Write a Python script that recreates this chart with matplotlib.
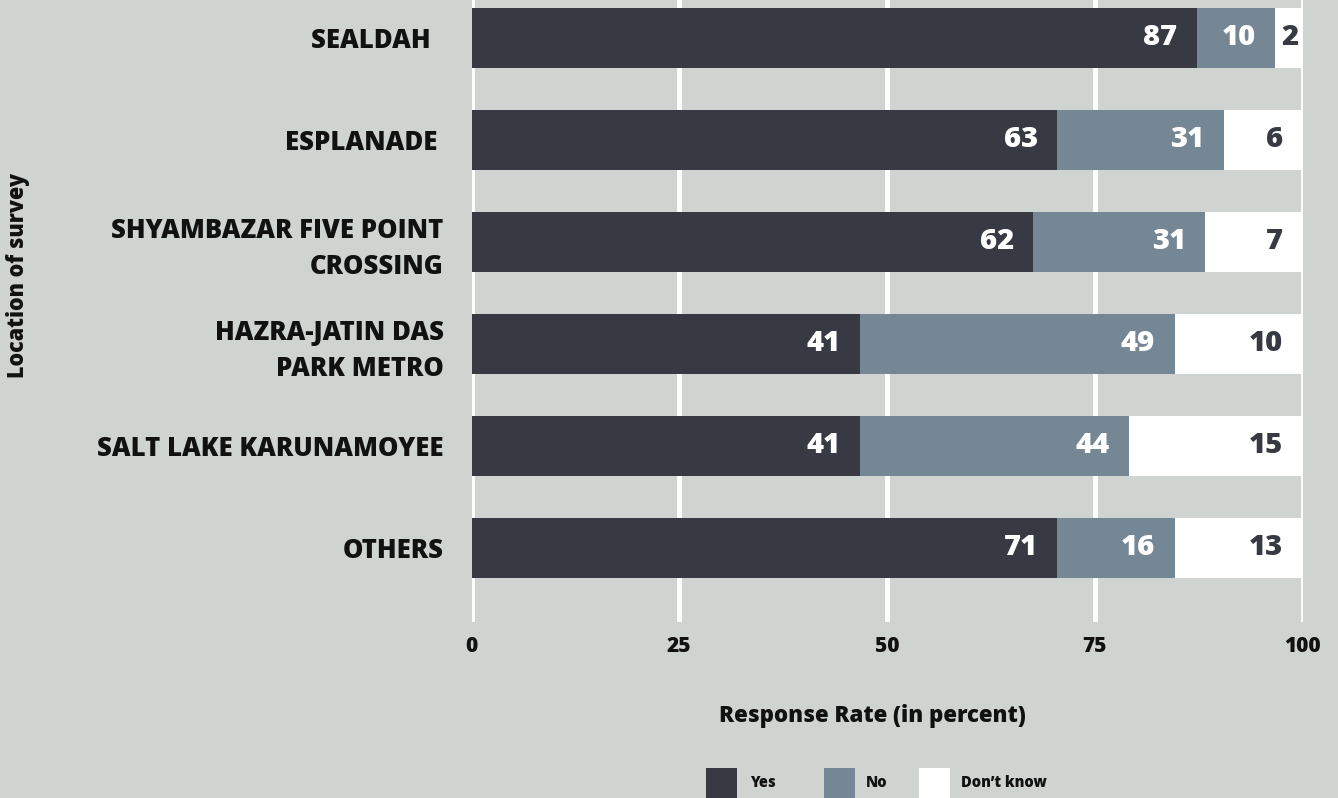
import matplotlib
matplotlib.use("Agg")
import matplotlib.pyplot as plt
from matplotlib.patches import Rectangle

# ---- data ----
categories = ["SEALDAH  ", "ESPLANADE ", "SHYAMBAZAR FIVE POINT\nCROSSING",
              "HAZRA-JATIN DAS\nPARK METRO", "SALT LAKE KARUNAMOYEE", "OTHERS"]
yes_labels = [87, 63, 62, 41, 41, 71]
no_labels = [10, 31, 31, 49, 44, 16]
dk_labels = [2, 6, 7, 10, 15, 13]
# segment lengths as drawn in the reference (percent axis)
yes_width = [87.3, 70.5, 67.6, 46.8, 46.8, 70.5]
no_width = [9.4, 20.0, 20.7, 37.8, 32.3, 14.1]
dk_width = [3.3, 9.5, 11.7, 15.4, 20.9, 15.4]
xticks = [0, 25, 50, 75, 100]
series_names = ["Yes", "No", "Don\u2019t know"]

# ---- style ----
FONT = "Open Sans"
plt.rcParams["font.family"] = [FONT, "DejaVu Sans"]
BG = "#cfd4d1"
C_YES = "#383a43"
C_NO = "#758694"
C_DK = "#ffffff"
TXT = "#111111"
HW = "heavy"

W, H = 1338, 798
fig = plt.figure(figsize=(W / 100, H / 100), dpi=100, facecolor=BG)
ax = fig.add_axes([471.5 / W, 1 - 622 / H, 831 / W, 622 / H])
ax.set_facecolor("none")

y = list(range(len(categories)))
bh = 60 / 102
lefts_no = yes_width
lefts_dk = [a + b for a, b in zip(yes_width, no_width)]
ax.barh(y, yes_width, height=bh, color=C_YES, zorder=3)
ax.barh(y, no_width, left=lefts_no, height=bh, color=C_NO, zorder=3)
ax.barh(y, dk_width, left=lefts_dk, height=bh, color=C_DK, zorder=3)

ax.set_xlim(0, 100)
ax.set_ylim((622 - 37.5) / 102, -37.5 / 102)

# value labels
def put(vals, lefts, widths, color):
    for i, (v, l, w) in enumerate(zip(vals, lefts, widths)):
        pad = 3 if w < 5 else 14
        ax.annotate(str(v), xy=(l + w, i), xytext=(-pad, 0), textcoords="offset points",
                    ha="right", va="center", color=color, fontsize=21,
                    fontweight=HW, zorder=5)

put(yes_labels, [0] * len(y), yes_width, "white")
put(no_labels, lefts_no, no_width, "white")
put(dk_labels, lefts_dk, dk_width, C_YES)

# grid
ax.set_xticks(xticks)
ax.set_xticklabels([str(t) for t in xticks])
ax.grid(axis="x", color="white", linewidth=3.5, zorder=1)
ax.set_axisbelow(True)
for s in ax.spines.values():
    s.set_visible(False)
ax.tick_params(axis="x", length=0, pad=10, labelsize=15, labelcolor=TXT)
for lab in ax.get_xticklabels():
    lab.set_fontweight(HW)
ax.set_yticks(y)
ax.set_yticklabels(categories, fontsize=18.5, fontweight=HW, color=TXT,
                   linespacing=1.45)
ax.tick_params(axis="y", length=0, pad=20)

# axis titles
fig.text(872 / W, 1 - 716 / H, "Response Rate (in percent)", ha="center", va="center",
         fontsize=16, fontweight=HW, color=TXT)
fig.text(18 / W, 1 - 275 / H, "Location of survey", ha="center", va="center",
         rotation=90, fontsize=15.5, fontweight=HW, color=TXT)

# legend
leg_colors = [C_YES, C_NO, C_DK]
leg_box_x = [706, 824, 919]
leg_txt_x = [750, 866, 961]
for name, c, bx, tx in zip(series_names, leg_colors, leg_box_x, leg_txt_x):
    fig.patches.append(Rectangle((bx / W, 0), 31 / W, 30 / H, transform=fig.transFigure,
                                 facecolor=c, edgecolor="none"))
    fig.text(tx / W, 1 - 783 / H, name, ha="left", va="center", fontsize=10.5,
             fontweight=HW, color=TXT)

fig.savefig("out.png", dpi=100, facecolor=BG)
